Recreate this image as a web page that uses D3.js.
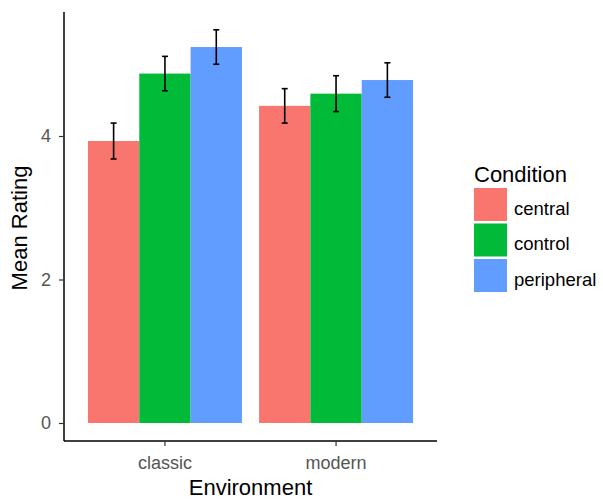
<!DOCTYPE html>
<html>
<head>
<meta charset="utf-8">
<script src="https://cdn.jsdelivr.net/npm/d3@7"></script>
<style>
  html, body { margin: 0; padding: 0; background: #fff; }
  svg { display: block; font-family: "Liberation Sans", Arial, sans-serif; }
</style>
</head>
<body>
<svg id="chart" width="603" height="500"></svg>
<script>
// Mean rating by environment and condition, with error bars
const environments = ["classic", "modern"];
const conditions = ["central", "control", "peripheral"];
const colors = ["#F8766D", "#00BA38", "#619CFF"];
const meanClassic = [3.93, 4.87, 5.24];
const meanModern = [4.42, 4.59, 4.78];
const errClassic = [0.25, 0.24, 0.24];
const errModern = [0.24, 0.25, 0.24];
const yTicks = [0, 2, 4];

const means = [meanClassic, meanModern];
const errs = [errClassic, errModern];

const rows = [];
environments.forEach((env, i) => {
  conditions.forEach((cond, j) => {
    rows.push({ env, cond, value: means[i][j], err: errs[i][j], color: colors[j] });
  });
});

const svg = d3.select("#chart");
const plot = { left: 64, right: 437, top: 12, bottom: 441 };
const font = "Liberation Sans, Arial, sans-serif";

const x = d3.scaleBand()
  .domain(environments)
  .range([plot.left, plot.right])
  .paddingInner(0.1)
  .paddingOuter(0.14);

const xInner = d3.scaleBand()
  .domain(conditions)
  .range([0, x.bandwidth()]);

const y = d3.scaleLinear()
  .domain([0, 4])
  .range([423, 136]);

// bars
svg.append("g").selectAll("rect")
  .data(rows)
  .join("rect")
  .attr("x", d => x(d.env) + xInner(d.cond))
  .attr("y", d => y(d.value))
  .attr("width", xInner.bandwidth())
  .attr("height", d => y(0) - y(d.value))
  .attr("fill", d => d.color);

// error bars
const capHalf = 3;
const eb = svg.append("g").attr("stroke", "#000").attr("stroke-width", 1.6).attr("fill", "none");
rows.forEach(d => {
  const cx = x(d.env) + xInner(d.cond) + xInner.bandwidth() / 2;
  const y1 = y(d.value + d.err), y2 = y(d.value - d.err);
  eb.append("line").attr("x1", cx).attr("x2", cx).attr("y1", y1).attr("y2", y2);
  eb.append("line").attr("x1", cx - capHalf).attr("x2", cx + capHalf).attr("y1", y1).attr("y2", y1);
  eb.append("line").attr("x1", cx - capHalf).attr("x2", cx + capHalf).attr("y1", y2).attr("y2", y2);
});

// y axis
const yAxis = svg.append("g")
  .attr("transform", `translate(${plot.left},0)`)
  .call(d3.axisLeft(y).tickValues(yTicks).tickSize(5).tickPadding(8).tickFormat(d3.format("d")));
yAxis.select(".domain").attr("d", `M0,${plot.top}V${plot.bottom}`).attr("stroke", "#000").attr("stroke-width", 1.5);
yAxis.selectAll(".tick line").attr("stroke", "#333").attr("stroke-width", 1.2);
yAxis.selectAll(".tick text").attr("fill", "#555").attr("font-size", 18).attr("font-family", font);

// x axis
const xAxis = svg.append("g")
  .attr("transform", `translate(0,${plot.bottom})`)
  .call(d3.axisBottom(x).tickSize(5).tickPadding(0));
xAxis.select(".domain").attr("d", `M${plot.left},0H${plot.right}`).attr("stroke", "#000").attr("stroke-width", 1.5);
xAxis.selectAll(".tick line").attr("stroke", "#333").attr("stroke-width", 1.2);
xAxis.selectAll(".tick text")
  .attr("fill", "#555").attr("font-size", 18).attr("font-family", font)
  .attr("dy", null).attr("y", 28);

// axis titles
svg.append("text")
  .attr("x", (plot.left + plot.right) / 2)
  .attr("y", 495)
  .attr("text-anchor", "middle")
  .attr("font-size", 22)
  .attr("fill", "#000")
  .text("Environment");

svg.append("text")
  .attr("transform", `translate(27,228) rotate(-90)`)
  .attr("text-anchor", "middle")
  .attr("font-size", 22)
  .attr("fill", "#000")
  .text("Mean Rating");

// legend
const legend = svg.append("g").attr("transform", "translate(474,0)");
legend.append("text")
  .attr("x", 0)
  .attr("y", 182)
  .attr("font-size", 22)
  .attr("fill", "#000")
  .text("Condition");
conditions.forEach((c, i) => {
  const ky = 188 + i * 35.5;
  legend.append("rect")
    .attr("x", 0).attr("y", ky)
    .attr("width", 33).attr("height", 33)
    .attr("fill", colors[i]);
  legend.append("text")
    .attr("x", 40).attr("y", ky + 26.5)
    .attr("font-size", 18.5)
    .attr("fill", "#000")
    .text(c);
});
</script>
</body>
</html>
